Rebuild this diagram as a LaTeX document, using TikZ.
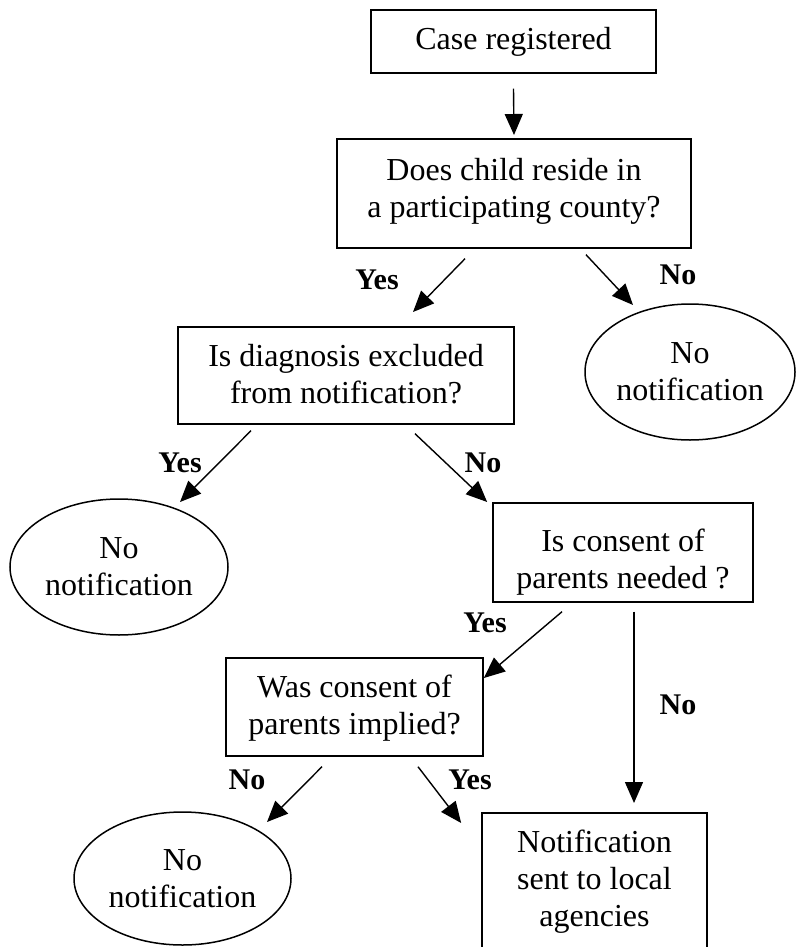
\documentclass[tikz,border=0pt]{standalone}
\usepackage{fontspec}
\setmainfont{Liberation Serif}
\usetikzlibrary{arrows.meta,calc,shapes.geometric}
\newcommand\tstr[1]{\rule{0pt}{#1pt}}
\newcommand\bstr[1]{\rule[-#1pt]{0pt}{#1pt}}
\tikzset{
  boxnode/.style={draw, line width=1.7pt, inner xsep=0pt, inner ysep=0pt, align=center, anchor=north,
    font=\fontsize{32}{37}\selectfont},
  endnode/.style={draw, ellipse, line width=1.5pt, inner sep=0pt, align=center,
    font=\fontsize{32}{37}\selectfont},
  lbl/.style={inner sep=0pt, font=\fontsize{30}{36}\selectfont\bfseries},
  arr/.style={line width=1.4pt, -{Triangle[length=21pt,width=18pt]}}
}
\begin{document}
\begin{tikzpicture}[x=1pt,y=-1pt]
\fill[white] (0,0) rectangle (796,947);
\useasboundingbox (0,0) rectangle (796,947);

\node[boxnode, minimum width=285pt] (b1) at (513.5,9) {\tstr{40}Case registered\bstr{23}};
\node[boxnode, minimum width=354pt] (b2) at (514,138) {\tstr{42}Does child reside in\\a participating county?\bstr{30}};
\node[boxnode, minimum width=336pt] (b3) at (346,326) {\tstr{40}Is diagnosis excluded\\from notification?\bstr{20}};
\node[boxnode, minimum width=260pt] (b4) at (623,502) {\tstr{49}Is consent of\\parents needed ?\bstr{13}};
\node[boxnode, minimum width=257pt] (b5) at (354.5,657) {\tstr{40}Was consent of\\parents implied?\bstr{21}};
\node[boxnode, minimum width=225pt] (b6) at (594.5,812) {\tstr{40}Notification\\sent to local\\agencies\bstr{60}};

\node[endnode, minimum width=210pt, minimum height=136pt] (e1) at (690,372) {No\\notification};
\node[endnode, minimum width=218pt, minimum height=136pt] (e2) at (119,567) {No\\notification};
\node[endnode, minimum width=217pt, minimum height=133pt] (e3) at (182.5,878.5) {No\\notification};

\draw[arr] ($(b1.south)+(0,15)$) -- ($(b2.north)+(0,-3)$);
\draw[arr] ($(b2.south)+(-49,10)$) -- ($(b3.north)+(67,-14)$);
\draw[arr] ($(b2.south)+(72,6)$) -- ($(e1.center)+(-57,-67)$);
\draw[arr] ($(b3.south)+(-95,6)$) -- ($(e2.center)+(61,-65)$);
\draw[arr] ($(b3.south)+(69,9)$) -- ($(b4.north west)+(-5,0)$);
\draw[arr] ($(b4.south)+(-61,9)$) -- ($(b5.north east)+(0,21)$);
\draw[arr] ($(b4.south)+(11,9)$) -- ($(b6.north)+(39.5,-9)$);
\draw[arr] ($(b5.south)+(-32.5,10)$) -- ($(e3.center)+(84.5,-56.5)$);
\draw[arr] ($(b5.south)+(63.5,10)$) -- ($(b6.north west)+(-20,11)$);

\node[lbl] (l1) at (377,280) {Yes};
\node[lbl] (l2) at (678,275) {No};
\node[lbl] (l3) at (180,463) {Yes};
\node[lbl] (l4) at (483,463) {No};
\node[lbl] (l5) at (485,623) {Yes};
\node[lbl] (l6) at (678,705) {No};
\node[lbl] (l7) at (247,780) {No};
\node[lbl] (l8) at (470,780) {Yes};
\end{tikzpicture}
\end{document}
